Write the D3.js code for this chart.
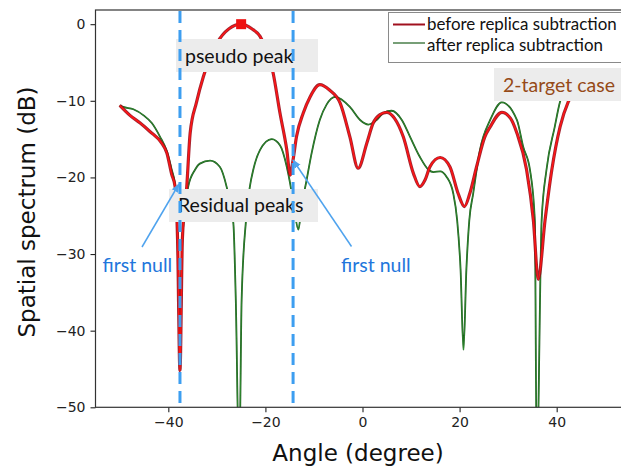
<!DOCTYPE html>
<html>
<head>
<meta charset="utf-8">
<script src="https://cdn.jsdelivr.net/npm/d3@7"></script>
<style>
  html, body { margin: 0; padding: 0; background: #fff; }
  svg { display: block; }
</style>
</head>
<body>
<svg id="chart" width="621" height="468"></svg>
<script>
// Spatial spectrum of a 2-target scene, before and after replica subtraction
const angleBefore = [-50, -47.9, -45.8, -43.8, -41.4, -40.3, -39.3, -38.6, -38.1, -37.6, -37.1, -36.2,
  -35.5, -34.2, -32.8, -30.0, -27.5, -25.0, -22.8, -21.1, -18.4, -17.0, -15.6, -14.9, -14.3, -13.6,
  -12.2, -10.8, -8.8, -6.8, -4.6, -2.6, -0.9, 0.9, 2.2, 3.6, 5.0, 6.6, 8.4, 10.5, 11.8, 12.9, 13.9,
  16.0, 18.0, 19.7, 21.0, 22.1, 23.5, 25.2, 26.3, 28.7, 30.5, 31.8, 33.8, 35.2, 36.2, 37.6, 39.0,
  40.7, 42.4, 44.5, 47.0, 50.0];
const dbBefore = [-10.6, -11.9, -12.9, -14.0, -15.5, -16.8, -19.6, -21.2, -28.0, -45.2, -28.0, -21.2,
  -14.2, -10.2, -6.9, -2.5, -0.6, 0.0, -0.6, -1.6, -6.4, -11.6, -16.4, -19.7, -17.7, -14.7,
  -11.6, -9.5, -7.9, -8.6, -10.3, -14.7, -18.8, -15.5, -12.9, -11.8, -11.5, -12.3, -14.7, -19.5, -21.2, -20.3, -18.6,
  -17.4, -18.6, -22.1, -23.8, -22.1, -18.6, -14.7, -13.4, -11.5, -12.3, -14.2, -19.0, -25.6, -33.3, -25.6, -19.0,
  -13.4, -10.1, -8.2, -7.3, -6.9];

const angleAfter = [-50, -49.3, -47.2, -45.1, -43.4, -41.7, -40.3, -39.3, -38.6, -38.1, -37.6, -37.1,
  -35.9, -34.5, -33.5, -31.4, -29.4, -28.0, -26.6, -26.1, -25.4, -24.9, -24.0, -23.2, -22.5, -21.1,
  -18.7, -17.0, -15.6, -14.9, -14.1, -13.2, -12.6, -11.5, -10.5, -8.8, -7.4, -5.6, -2.6, -0.5, 1.2,
  2.9, 4.3, 6.0, 8.1, 9.8, 11.8, 13.6, 14.6, 16.0, 17.3, 18.7, 19.5, 20.2, 20.8, 21.4, 22.0, 22.8,
  24.2, 26.3, 28.7, 31.8, 33.1, 34.5, 35.5, 35.9, 36.9, 37.9, 39.6, 40.7, 42.5, 45.0, 47.5, 50.0];
const dbAfter = [-10.6, -10.8, -11.1, -11.9, -12.9, -14.7, -16.6, -19.0, -21.0, -28.0, -44.0, -28.0,
  -21.2, -19.0, -18.2, -17.8, -18.6, -21.2, -26.0, -36.0, -58.0, -36.0, -25.6, -21.2, -19.0, -16.4,
  -15.0, -15.8, -18.6, -20.8, -24.0, -26.8, -24.0, -20.3, -16.9, -12.5, -10.5, -9.5, -10.8, -12.5, -13.1,
  -12.5, -11.6, -11.3, -12.5, -14.7, -17.3, -19.0, -19.3, -19.2, -19.9, -22.1, -25.6, -32.0, -42.5, -32.0, -25.6, -22.1,
  -16.4, -12.5, -10.2, -12.5, -16.0, -19.0, -25.6, -58.0, -25.6, -19.0, -13.4, -10.1, -8.0, -7.1, -6.8, -7.0];

const xTicks = [-40, -20, 0, 20, 40];
const yTicks = [0, -10, -20, -30, -40, -50];
const firstNulls = [-37.6, -14.3];
const pseudoPeak = { angle: -25.0, db: 0.0 };
const legendLabels = ["before replica subtraction", "after replica subtraction"];

const svg = d3.select("#chart");
const m = { left: 95.5, right: 629.5, top: 10, bottom: 407.3 };

const x = d3.scaleLinear().domain([-55, 55]).range([m.left, m.right]);
const y = d3.scaleLinear().domain([-50, 1.85]).range([m.bottom, m.top]);

const defs = svg.append("defs");
defs.append("clipPath").attr("id", "plotClip")
  .append("rect").attr("x", m.left).attr("y", m.top)
  .attr("width", m.right - m.left).attr("height", m.bottom - m.top);

const plot = svg.append("g").attr("clip-path", "url(#plotClip)");

const line = d3.line().curve(d3.curveMonotoneX).x(d => x(d[0])).y(d => y(d[1]));
const before = angleBefore.map((a, i) => [a, dbBefore[i]]);
const after = angleAfter.map((a, i) => [a, dbAfter[i]]);

// after: dark green with a lighter core
plot.append("path").datum(after).attr("d", line)
  .attr("fill", "none").attr("stroke", "#1e5a1e").attr("stroke-width", 1.8).attr("stroke-linejoin", "round");
plot.append("path").datum(after).attr("d", line)
  .attr("fill", "none").attr("stroke", "#3aa53a").attr("stroke-width", 0.6).attr("stroke-linejoin", "round");

// before: dark red edge with bright red core
plot.append("path").datum(before).attr("d", line)
  .attr("fill", "none").attr("stroke", "#9a0c1a").attr("stroke-width", 3.2).attr("stroke-linejoin", "round")
  .attr("stroke-opacity", 0.9);
plot.append("path").datum(before).attr("d", line)
  .attr("fill", "none").attr("stroke", "#ff1414").attr("stroke-width", 1.5).attr("stroke-linejoin", "round");

// pseudo peak marker
plot.append("rect")
  .attr("x", x(pseudoPeak.angle) - 5).attr("y", y(pseudoPeak.db) - 5)
  .attr("width", 10).attr("height", 10).attr("fill", "#ee1111");

// axes
const xAxis = d3.axisBottom(x).tickValues(xTicks).tickSize(5).tickPadding(5);
const yAxis = d3.axisLeft(y).tickValues(yTicks).tickSize(5).tickPadding(5);

const gx = svg.append("g").attr("transform", `translate(0,${m.bottom})`).call(xAxis);
const gy = svg.append("g").attr("transform", `translate(${m.left},0)`).call(yAxis);
[gx, gy].forEach(g => {
  g.select(".domain").remove();
  g.selectAll(".tick line").attr("stroke", "#222").attr("stroke-width", 1.1);
  g.selectAll(".tick text").attr("fill", "#222")
    .style("font-family", "DejaVu Sans").style("font-size", "14px");
});

// frame
svg.append("rect").attr("x", m.left).attr("y", m.top)
  .attr("width", m.right - m.left).attr("height", m.bottom - m.top)
  .attr("fill", "none").attr("stroke", "#333").attr("stroke-width", 1.2);

svg.append("text").attr("x", 358).attr("y", 461)
  .attr("text-anchor", "middle").attr("fill", "#111")
  .style("font-family", "DejaVu Sans").style("font-size", "23px").text("Angle (degree)");
svg.append("text").attr("transform", `translate(35,212) rotate(-90)`)
  .attr("text-anchor", "middle").attr("fill", "#111")
  .style("font-family", "DejaVu Sans").style("font-size", "23px").text("Spatial spectrum (dB)");

// legend
const lg = svg.append("g");
lg.append("rect").attr("x", 388.5).attr("y", 12.5).attr("width", 250).attr("height", 50)
  .attr("fill", "#fff").attr("stroke", "#8a8a8a").attr("stroke-width", 1);
lg.append("line").attr("x1", 393).attr("x2", 425).attr("y1", 24.5).attr("y2", 24.5)
  .attr("stroke", "#a0101e").attr("stroke-width", 2);
lg.append("line").attr("x1", 393).attr("x2", 425).attr("y1", 43).attr("y2", 43)
  .attr("stroke", "#2e6b2e").attr("stroke-width", 1.3);
const legendText = legendLabels.map((t, i) =>
  lg.append("text").attr("x", 427).attr("y", 30 + i * 21)
    .attr("fill", "#111").style("font-family", "Lato").style("font-size", "17px").text(t));
// size the legend labels so the longer one spans the legend width
const longest = legendText[0].node().getComputedTextLength();
const legendSize = 17 * 190 / longest;
legendText.forEach(t => t.style("font-size", legendSize + "px"));

// annotation boxes
function labelBox(x0, y0, w, h, tx, ty, text, color) {
  svg.append("rect").attr("x", x0).attr("y", y0).attr("width", w).attr("height", h).attr("fill", "#ececec");
  svg.append("text").attr("x", tx).attr("y", ty).attr("fill", color)
    .style("font-family", "Lato").style("font-size", "19.5px").text(text);
}
labelBox(176, 39, 142, 33, 185, 63, "pseudo peak", "#111");
labelBox(169, 189, 149, 33, 178, 212, "Residual peaks", "#111");
labelBox(494, 68, 130, 33, 503, 91.5, "2-target case", "#964a18");

// first-null markers
firstNulls.forEach(a => {
  svg.append("line").attr("x1", x(a)).attr("x2", x(a)).attr("y1", m.top + 1).attr("y2", m.bottom)
    .attr("stroke", "#3d9ef0").attr("stroke-width", 3).attr("stroke-dasharray", "12,7");
});

defs.append("marker").attr("id", "arrowHead").attr("viewBox", "0 0 10 10")
  .attr("refX", 9).attr("refY", 5).attr("markerWidth", 6).attr("markerHeight", 6)
  .attr("orient", "auto-start-reverse")
  .append("path").attr("d", "M0,1 L10,5 L0,9 z").attr("fill", "#4fa3ee");

const arrows = [[142, 247, 179, 184], [351.5, 246.5, 293, 160]];
arrows.forEach(([x1, y1, x2, y2]) => {
  svg.append("line").attr("x1", x1).attr("y1", y1).attr("x2", x2).attr("y2", y2)
    .attr("stroke", "#4fa3ee").attr("stroke-width", 1.5).attr("marker-end", "url(#arrowHead)");
});

svg.append("text").attr("x", 102.5).attr("y", 272).attr("fill", "#2276dc")
  .style("font-family", "Lato").style("font-size", "19.5px").text("first null");
svg.append("text").attr("x", 341).attr("y", 272).attr("fill", "#2276dc")
  .style("font-family", "Lato").style("font-size", "19.5px").text("first null");
</script>
</body>
</html>
